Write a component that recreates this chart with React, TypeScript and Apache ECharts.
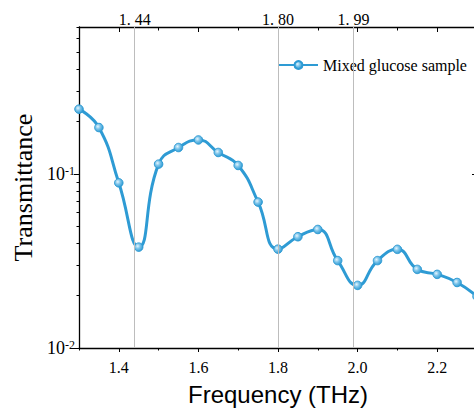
import React, { useEffect, useRef } from 'react';
import * as echarts from 'echarts';

const seriesName = 'Mixed glucose sample';
const frequencies = [1.3, 1.35, 1.4, 1.45, 1.5, 1.55, 1.6, 1.65, 1.7, 1.75, 1.8, 1.85, 1.9, 1.95, 2.0, 2.05, 2.1, 2.15, 2.2, 2.25, 2.3];
const transmittance = [0.236, 0.185, 0.089, 0.038, 0.114, 0.142, 0.157, 0.133, 0.112, 0.069, 0.037, 0.0436, 0.048, 0.0318, 0.0229, 0.0318, 0.0369, 0.0283, 0.0265, 0.0238, 0.0198];

const peakFrequencies = [1.44, 1.8, 1.99];
const peakLabels = ['1. 44', '1. 80', '1. 99'];

const xMajorTicks = [1.4, 1.6, 1.8, 2.0, 2.2];
const xMinorTicks = [1.3, 1.5, 1.7, 1.9, 2.1, 2.3];
const yDecadeTicks = [0.01, 0.1];
const yMinorTicks = [0.02, 0.03, 0.04, 0.05, 0.06, 0.07, 0.08, 0.09, 0.2, 0.3, 0.4, 0.5, 0.6, 0.7];

const xMin = 1.3;
const xMax = 2.3;
const yMin = 0.01;
const yMax = 0.7;

const LINE_COLOR = '#2E9BD4';
const SERIF = '"Liberation Serif", "Times New Roman", serif';
const SANS = '"Liberation Sans", Arial, sans-serif';

const lg = (v: number) => Math.log10(v);

export default function App() {
  const ref = useRef<HTMLDivElement>(null);

  useEffect(() => {
    if (!ref.current) return;
    const chart = echarts.init(ref.current, undefined, { renderer: 'svg' });

    const baseX = {
      type: 'value' as const,
      min: xMin,
      max: xMax,
      gridIndex: 0,
      splitLine: { show: false },
    };
    const baseY = {
      type: 'value' as const,
      min: lg(yMin),
      max: lg(yMax),
      gridIndex: 0,
      splitLine: { show: false },
    };
    const axisLine = { show: true, onZero: false, lineStyle: { color: '#000', width: 1.3 } };
    const noLine = { show: false, onZero: false };

    const option: any = {
      animation: false,
      backgroundColor: '#fff',
      grid: {
        left: 79,
        top: 27,
        width: 398,
        height: 321,
        containLabel: false,
        outerBoundsMode: 'none',
      },
      legend: {
        data: [seriesName],
        left: 278,
        top: 57,
        padding: 0,
        itemWidth: 39,
        itemHeight: 10,
        textStyle: { color: '#000', fontSize: 16, fontFamily: SERIF },
      },
      xAxis: [
        {
          ...baseX,
          position: 'bottom',
          name: 'Frequency (THz)',
          nameLocation: 'middle',
          nameGap: 34,
          nameTextStyle: { color: '#000', fontSize: 24, fontFamily: SANS },
          axisLine,
          axisTick: { show: true, inside: false, length: 4, customValues: xMajorTicks, lineStyle: { color: '#000', width: 1 } },
          axisLabel: {
            show: true,
            customValues: xMajorTicks,
            margin: 11,
            color: '#000',
            fontSize: 16,
            fontFamily: SERIF,
            formatter: (v: number) => v.toFixed(1),
          },
        },
        {
          ...baseX,
          position: 'bottom',
          axisLine: noLine,
          axisTick: { show: true, inside: false, length: 2.5, customValues: xMinorTicks, lineStyle: { color: '#000', width: 1 } },
          axisLabel: { show: false },
        },
        {
          ...baseX,
          position: 'top',
          axisLine,
          axisTick: { show: true, inside: true, length: 5, customValues: xMajorTicks, lineStyle: { color: '#000', width: 1 } },
          axisLabel: { show: false },
        },
        {
          ...baseX,
          position: 'top',
          axisLine: noLine,
          axisTick: { show: true, inside: true, length: 3.5, customValues: xMinorTicks, lineStyle: { color: '#000', width: 1 } },
          axisLabel: { show: false },
        },
      ],
      yAxis: [
        {
          ...baseY,
          position: 'left',
          name: 'Transmittance',
          nameLocation: 'middle',
          nameGap: 41,
          nameTextStyle: { color: '#000', fontSize: 26, fontFamily: SERIF },
          axisLine,
          axisTick: { show: true, inside: false, length: 5, customValues: yDecadeTicks.map(lg), lineStyle: { color: '#000', width: 1 } },
          axisLabel: {
            show: true,
            customValues: yDecadeTicks.map(lg),
            margin: 4,
            formatter: (v: number) => `{b|10}{s|${Math.round(v)}}`,
            rich: {
              b: { fontSize: 18, fontFamily: SERIF, color: '#000', lineHeight: 18 },
              s: { fontSize: 12, fontFamily: SERIF, color: '#000', verticalAlign: 'top', lineHeight: 12 },
            },
          },
        },
        {
          ...baseY,
          position: 'left',
          axisLine: noLine,
          axisTick: { show: true, inside: false, length: 2.5, customValues: yMinorTicks.map(lg), lineStyle: { color: '#000', width: 1 } },
          axisLabel: { show: false },
        },
        {
          ...baseY,
          position: 'right',
          axisLine,
          axisTick: { show: true, inside: true, length: 5, customValues: yDecadeTicks.map(lg), lineStyle: { color: '#000', width: 1 } },
          axisLabel: { show: false },
        },
        {
          ...baseY,
          position: 'right',
          axisLine: noLine,
          axisTick: { show: true, inside: true, length: 3, customValues: yMinorTicks.map(lg), lineStyle: { color: '#000', width: 1 } },
          axisLabel: { show: false },
        },
      ],
      series: [
        {
          name: seriesName,
          type: 'line',
          xAxisIndex: 0,
          yAxisIndex: 0,
          smooth: 0.5,
          symbol: 'circle',
          symbolSize: 8.5,
          showSymbol: true,
          lineStyle: { color: LINE_COLOR, width: 3 },
          itemStyle: {
            color: new echarts.graphic.RadialGradient(0.38, 0.38, 0.65, [
              { offset: 0, color: '#e6f5fd' },
              { offset: 0.45, color: '#7cc4ea' },
              { offset: 1, color: LINE_COLOR },
            ]),
            borderColor: LINE_COLOR,
            borderWidth: 1,
          },
          data: frequencies.map((f, i) => [f, lg(transmittance[i])]),
          markLine: {
            silent: true,
            symbol: 'none',
            animation: false,
            lineStyle: { color: '#bdbdbd', width: 1, type: 'solid' },
            label: {
              show: true,
              position: 'end',
              distance: 0,
              color: '#000',
              fontSize: 16,
              fontFamily: SERIF,
            },
            data: peakFrequencies.map((f, i) => ({ xAxis: f, label: { formatter: peakLabels[i] } })),
          },
        },
      ],
    };

    chart.setOption(option);
    return () => chart.dispose();
  }, []);

  return (
    <div
      ref={ref}
      style={{ position: 'fixed', left: 0, top: 0, width: 474, height: 414, background: '#fff' }}
    />
  );
}
